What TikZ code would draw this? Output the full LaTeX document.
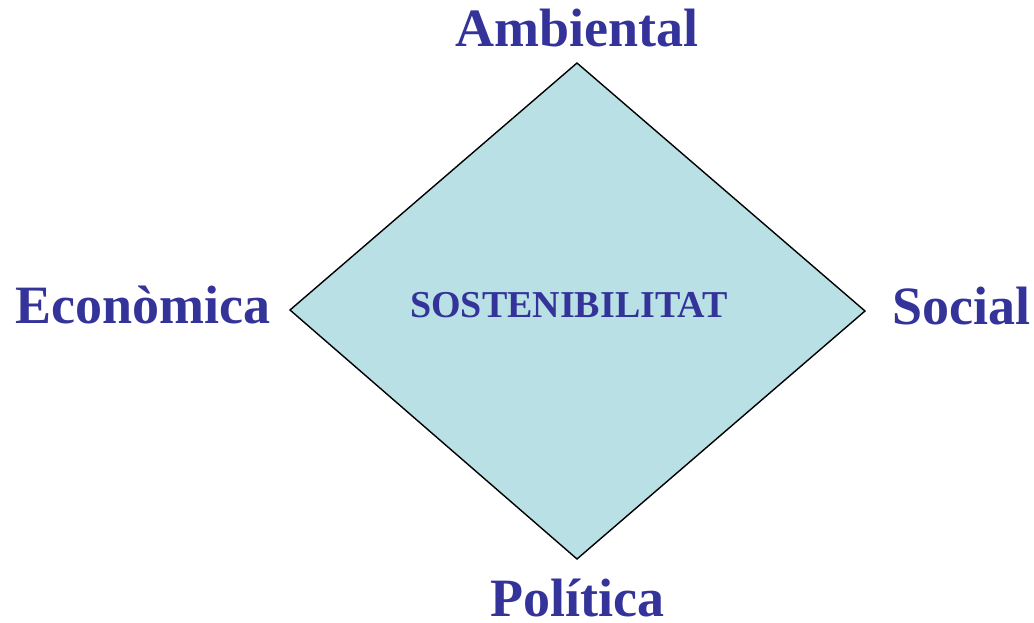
\documentclass[tikz,border=0pt]{standalone}
\usepackage{fontspec}
\setmainfont{Liberation Serif}
\definecolor{txtblue}{HTML}{333399}
\definecolor{diafill}{HTML}{B9E0E4}
\begin{document}
\begin{tikzpicture}[x=1pt,y=-1pt,
  lbl/.style={text=txtblue,font=\fontsize{54}{60}\selectfont\bfseries,anchor=base,inner sep=0pt},
  ctr/.style={text=txtblue,font=\fontsize{38}{44}\selectfont\bfseries,anchor=base,inner sep=0pt}]
\useasboundingbox (0,0) rectangle (1034,623);
\coordinate (t) at (577,63);
\coordinate (l) at (290,310);
\coordinate (r) at (865,311);
\coordinate (b) at (577,559);
\filldraw[fill=diafill,draw=black,line width=1.4pt,line join=miter] (t) -- (r) -- (b) -- (l) -- cycle;
\node[ctr] (c) at (569,317) {SOSTENIBILITAT};
\node[lbl] (amb) at (577,47) {Ambiental};
\node[lbl] (eco) at (143,323) {Econòmica};
\node[lbl] (soc) at (961,324) {Social};
\node[lbl] (pol) at (577,616) {Política};
\end{tikzpicture}
\end{document}
